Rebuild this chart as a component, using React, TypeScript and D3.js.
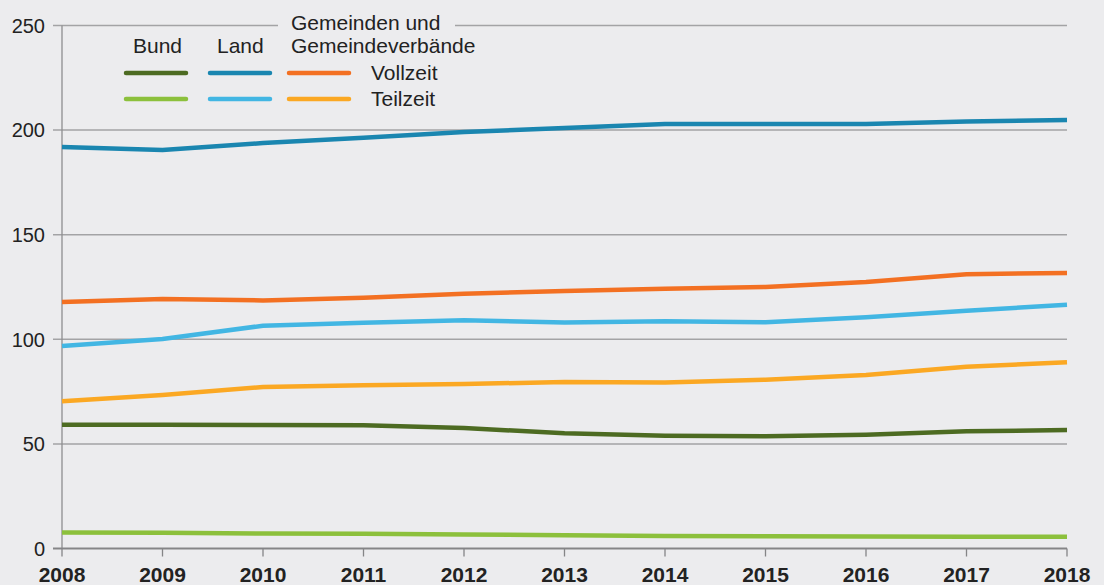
import React from 'react';
import * as d3 from 'd3';

const years = [2008, 2009, 2010, 2011, 2012, 2013, 2014, 2015, 2016, 2017, 2018];
const yTicks = [0, 50, 100, 150, 200, 250];

// values
const bundVollzeit = [59.2, 59.2, 59.0, 58.9, 57.6, 55.1, 53.9, 53.6, 54.4, 56.0, 56.6];
const bundTeilzeit = [7.7, 7.5, 7.2, 7.0, 6.7, 6.3, 6.0, 5.8, 5.7, 5.6, 5.6];
const landVollzeit = [191.9, 190.5, 193.8, 196.3, 199.1, 201.0, 202.9, 202.9, 202.9, 204.1, 204.8];
const landTeilzeit = [96.8, 100.1, 106.5, 107.9, 109.1, 108.0, 108.6, 108.1, 110.5, 113.7, 116.5];
const gemVollzeit = [117.8, 119.3, 118.6, 119.9, 121.8, 123.1, 124.2, 125.0, 127.4, 131.1, 131.7];
const gemTeilzeit = [70.4, 73.4, 77.2, 78.0, 78.6, 79.6, 79.4, 80.7, 82.9, 86.9, 89.0];

const series = [
  { key: 'landVollzeit', values: landVollzeit, color: '#1a86b0' },
  { key: 'gemVollzeit', values: gemVollzeit, color: '#f37022' },
  { key: 'landTeilzeit', values: landTeilzeit, color: '#42b6e3' },
  { key: 'gemTeilzeit', values: gemTeilzeit, color: '#fba823' },
  { key: 'bundVollzeit', values: bundVollzeit, color: '#4d6b22' },
  { key: 'bundTeilzeit', values: bundTeilzeit, color: '#8cc03c' },
];

const W = 1104;
const H = 585;
const FONT = '"Liberation Sans", Arial, Helvetica, sans-serif';

const App: React.FC = () => {
  const x = d3.scaleLinear().domain([2008, 2018]).range([62, 1067]);
  const y = d3.scaleLinear().domain([0, 250]).range([548.5, 25.5]);

  const line = d3
    .line<number>()
    .x((_, i) => x(years[i]))
    .y((d) => y(d));

  const legendLine = (x1: number, x2: number, yy: number, color: string) => (
    <line x1={x1} x2={x2} y1={yy} y2={yy} stroke={color} strokeWidth={4.5} strokeLinecap="round" />
  );

  return (
    <div style={{ position: 'fixed', left: 0, top: 0, width: W, height: H }}>
      <svg width={W} height={H} style={{ display: 'block', background: '#ececee' }} fontFamily={FONT}>
        {/* gridlines */}
        {yTicks.filter((t) => t > 0 && t < 250).map((t) => (
          <line key={t} x1={53} x2={1067} y1={y(t)} y2={y(t)} stroke="#a3a3a5" strokeWidth={1.5} />
        ))}
        {/* top gridline, broken by legend heading */}
        <line x1={53} x2={278} y1={y(250)} y2={y(250)} stroke="#a3a3a5" strokeWidth={1.5} />
        <line x1={455} x2={1067} y1={y(250)} y2={y(250)} stroke="#a3a3a5" strokeWidth={1.5} />
        {/* y axis */}
        <line x1={x(2008)} x2={x(2008)} y1={y(250)} y2={y(0)} stroke="#8e8e90" strokeWidth={1.3} />
        {yTicks.map((t) => (
          <text key={t} x={45} y={y(t)} dy="0.36em" textAnchor="end" fontSize={20} fill="#222">
            {t}
          </text>
        ))}
        {/* x axis */}
        <line x1={53} x2={1067} y1={y(0)} y2={y(0)} stroke="#858587" strokeWidth={2.2} />
        {years.map((yr) => (
          <g key={yr}>
            <line x1={x(yr)} x2={x(yr)} y1={y(0)} y2={y(0) + 8} stroke="#858587" strokeWidth={1.3} />
            <text x={x(yr)} y={582} textAnchor="middle" fontSize={21} fontWeight="bold" fill="#222">
              {yr}
            </text>
          </g>
        ))}
        {/* series */}
        {series.map((s) => (
          <path
            key={s.key}
            d={line(s.values) || ''}
            fill="none"
            stroke={s.color}
            strokeWidth={4.5}
            strokeLinejoin="round"
          />
        ))}
        {/* legend */}
        <g fontSize={21} fill="#222">
          <text x={291} y={30}>Gemeinden und</text>
          <text x={291} y={53}>Gemeindeverbände</text>
          <text x={133} y={53}>Bund</text>
          <text x={217} y={53}>Land</text>
          <text x={371} y={80}>Vollzeit</text>
          <text x={371} y={106}>Teilzeit</text>
        </g>
        {legendLine(126, 186, 73, '#4d6b22')}
        {legendLine(210, 270, 73, '#1a86b0')}
        {legendLine(289, 349, 73, '#f37022')}
        {legendLine(126, 186, 99, '#8cc03c')}
        {legendLine(210, 270, 99, '#42b6e3')}
        {legendLine(289, 349, 99, '#fba823')}
      </svg>
    </div>
  );
};

export default App;
